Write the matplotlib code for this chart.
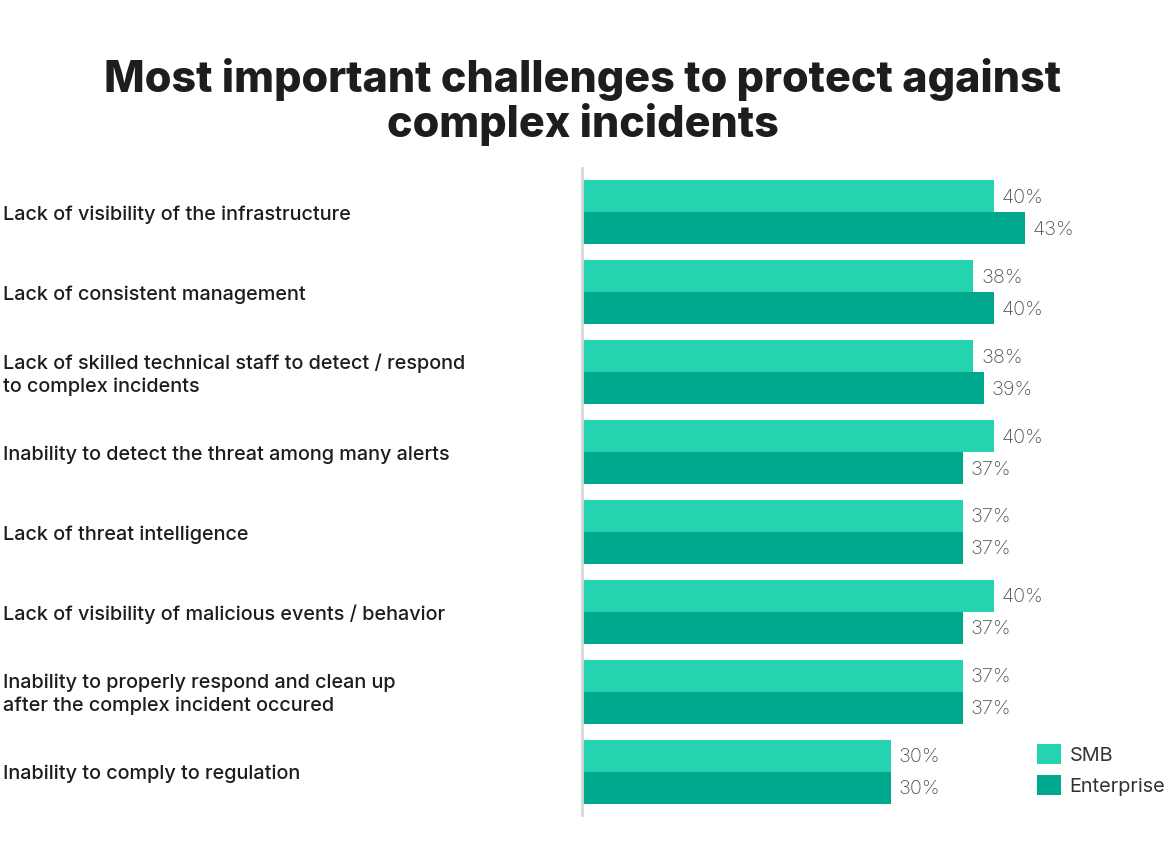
import matplotlib.pyplot as plt
import matplotlib.transforms as transforms
import numpy as np

plt.rcParams['font.family'] = ['Inter', 'DejaVu Sans']

categories = [
    'Lack of visibility of the infrastructure',
    'Lack of consistent management',
    'Lack of skilled technical staff to detect / respond\nto complex incidents',
    'Inability to detect the threat among many alerts',
    'Lack of threat intelligence',
    'Lack of visibility of malicious events / behavior',
    'Inability to properly respond and clean up\nafter the complex incident occured',
    'Inability to comply to regulation',
]
smb = [40, 38, 38, 40, 37, 40, 37, 30]
enterprise = [43, 40, 39, 37, 37, 37, 37, 30]

smb_color = '#24d3b0'
ent_color = '#00a88e'

fig = plt.figure(figsize=(11.7, 8.5), dpi=100)
ax = fig.add_axes([582 / 1170, 1 - 815 / 850, 1 - 582 / 1170, (815 - 168) / 850])

y = np.arange(len(categories))
h = 0.4
b1 = ax.barh(y - h / 2, smb, height=h, color=smb_color, label='SMB')
b2 = ax.barh(y + h / 2, enterprise, height=h, color=ent_color, label='Enterprise')

ax.set_xlim(0, 588 / 10.3)
ax.set_ylim(7.54, -0.55)

for bars, vals in ((b1, smb), (b2, enterprise)):
    for bar, v in zip(bars, vals):
        ax.text(v + 0.75, bar.get_y() + bar.get_height() / 2 + 0.02, f'{v}%',
                va='center', ha='left', fontsize=14.3, color='#4a5553',
                fontweight='light')

ax.set_xticks([])
ax.set_yticks([])
for s in ('top', 'right', 'bottom'):
    ax.spines[s].set_visible(False)
ax.spines['left'].set_color('#d3d8d8')
ax.spines['left'].set_linewidth(2)

trans = transforms.blended_transform_factory(fig.transFigure, ax.transData)
for i, cat in enumerate(categories):
    ax.text(3 / 1170, i + 0.03, cat, transform=trans, ha='left', va='center',
            fontsize=14.3, fontweight='medium', color='#1d1d1b',
            linespacing=1.3, clip_on=False)

fig.text(583 / 1170, 1 - 102 / 850,
         'Most important challenges to protect against\ncomplex incidents',
         ha='center', va='center', fontsize=31, fontweight='heavy',
         color='#1d1d1b', linespacing=1.08)

leg = fig.legend(handles=[b1, b2], loc='upper left',
                 bbox_to_anchor=(1019 / 1170, 1 - 726 / 850),
                 frameon=False, fontsize=14.3, handlelength=1.2,
                 handleheight=1.2, handletextpad=0.45, labelspacing=0.5,
                 labelcolor='#333333')

fig.savefig('out.png', dpi=100)
